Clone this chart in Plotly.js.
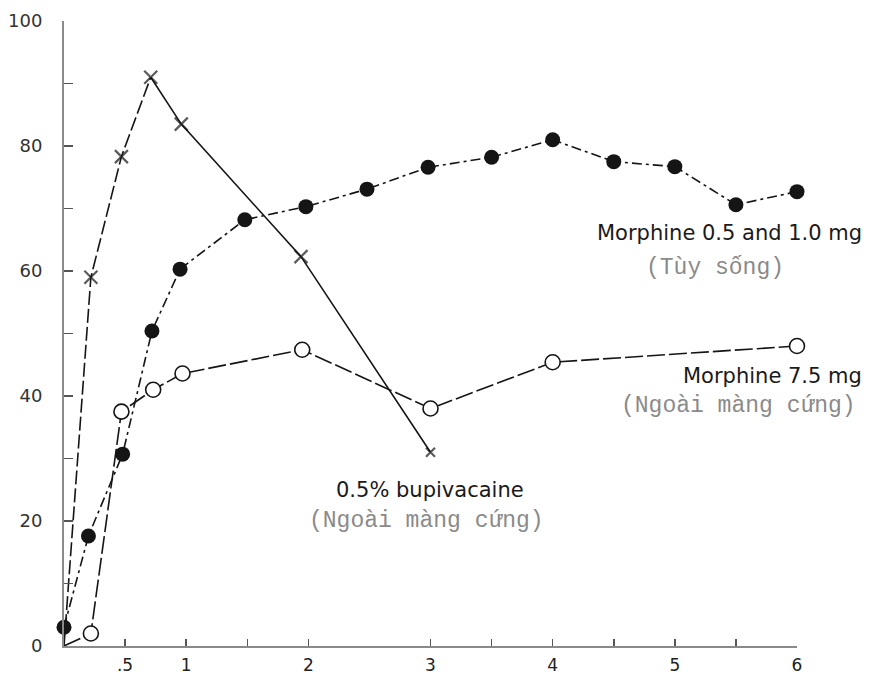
<!DOCTYPE html>
<html>
<head>
<meta charset="utf-8">
<script src="https://cdn.plot.ly/plotly-3.0.1.min.js"></script>
<style>html,body{margin:0;padding:0;background:#fff;}#chart{width:869px;height:676px;}</style>
</head>
<body>
<div id="chart"></div>
<script>
// Bupivacaine 0.5% (x markers)
const bupX = [0, 0.22, 0.47, 0.71, 0.96, 1.94, 3.0];
const bupY = [0, 59, 78.3, 91, 83.5, 62.3, 31];
// Morphine 0.5 and 1.0 mg (filled circles)
const morSpX = [0, 0.2, 0.48, 0.72, 0.95, 1.48, 1.98, 2.48, 2.98, 3.5, 4.0, 4.5, 5.0, 5.5, 6.0];
const morSpY = [3, 17.6, 30.7, 50.4, 60.3, 68.2, 70.3, 73.1, 76.6, 78.2, 81, 77.5, 76.7, 70.6, 72.7];
// Morphine 7.5 mg (open circles)
const morEpX = [0, 0.22, 0.47, 0.73, 0.97, 1.95, 3.0, 4.0, 6.0];
const morEpY = [0, 2, 37.5, 41, 43.6, 47.4, 38, 45.4, 48];

const xTickVals = [0.5, 1, 1.5, 2, 3, 3.5, 4, 4.5, 5, 5.5, 6];
const xTickText = [".5", "1", "", "2", "3", "", "4", "", "5", "", "6"];
const yTickVals = [0, 10, 20, 30, 40, 50, 60, 70, 80, 90, 100];
const yTickText = ["0", "", "20", "", "40", "", "60", "", "80", "", "100"];

const labelMorSp = ["Morphine 0.5 and 1.0 mg", "(Tùy sống)"];
const labelMorEp = ["Morphine 7.5 mg", "(Ngoài màng cứng)"];
const labelBup = ["0.5% bupivacaine", "(Ngoài màng cứng)"];

const ink = "#151515";
const traces = [
  { x: bupX.slice(0, 4), y: bupY.slice(0, 4), mode: "lines", cliponaxis: false,
    line: { color: ink, width: 1.6, dash: "14px,4px" }, hoverinfo: "skip" },
  { x: bupX.slice(3), y: bupY.slice(3), mode: "lines", cliponaxis: false,
    line: { color: ink, width: 1.6 }, hoverinfo: "skip" },
  { x: bupX.slice(1), y: bupY.slice(1), mode: "markers", cliponaxis: false,
    marker: { symbol: "x-thin-open", color: ink, size: [13, 13, 13, 13, 13, 9], line: { color: ink, width: 2.2 } } },
  { x: morSpX, y: morSpY, mode: "lines+markers", cliponaxis: false,
    line: { color: ink, width: 1.6, dash: "10px,4px,3px,4px" },
    marker: { symbol: "circle", size: 15, color: ink } },
  { x: morEpX, y: morEpY, mode: "lines", cliponaxis: false,
    line: { color: ink, width: 1.6, dash: "18px,4px" }, hoverinfo: "skip" },
  { x: morEpX.slice(1), y: morEpY.slice(1), mode: "markers", cliponaxis: false,
    marker: { symbol: "circle", size: 15, color: "#ffffff", line: { color: ink, width: 1.6 } } }
];

const sans = { family: "DejaVu Sans", size: 21, color: "#1a1a1a" };
const mono = { family: "Liberation Mono", size: 23, color: "#8a8a8a" };

const layout = {
  width: 869, height: 676,
  margin: { l: 64, r: 72, t: 21, b: 30 },
  paper_bgcolor: "#ffffff", plot_bgcolor: "#ffffff",
  showlegend: false,
  xaxis: {
    range: [0, 6], showgrid: false, zeroline: false,
    showline: true, linecolor: "#8a8a8a", linewidth: 2,
    ticks: "inside", ticklen: 7, tickwidth: 1.5, tickcolor: "#555",
    tickvals: xTickVals, ticktext: xTickText, ticklabelstandoff: 3,
    tickfont: { family: "DejaVu Sans", size: 17, color: "#222" }
  },
  yaxis: {
    range: [0, 100], showgrid: false, zeroline: false,
    showline: true, linecolor: "#8a8a8a", linewidth: 2,
    ticks: "inside", ticklen: 9, tickwidth: 1.5, tickcolor: "#555",
    tickvals: yTickVals, ticktext: yTickText, ticklabelstandoff: 16,
    tickfont: { family: "DejaVu Sans", size: 18, color: "#333" }
  },
  annotations: [
    { x: 1.0915, y: 66.1, xref: "paper", yref: "y", text: labelMorSp[0], showarrow: false, xanchor: "right", yanchor: "middle", font: sans },
    { x: 5.33, y: 60.5, xref: "x", yref: "y", text: labelMorSp[1], showarrow: false, xanchor: "center", yanchor: "middle", font: mono },
    { x: 1.0915, y: 43.2, xref: "paper", yref: "y", text: labelMorEp[0], showarrow: false, xanchor: "right", yanchor: "middle", font: sans },
    { x: 5.52, y: 38.4, xref: "x", yref: "y", text: labelMorEp[1], showarrow: false, xanchor: "center", yanchor: "middle", font: mono },
    { x: 2.995, y: 25, xref: "x", yref: "y", text: labelBup[0], showarrow: false, xanchor: "center", yanchor: "middle", font: sans },
    { x: 2.97, y: 20, xref: "x", yref: "y", text: labelBup[1], showarrow: false, xanchor: "center", yanchor: "middle", font: mono }
  ]
};

Plotly.newPlot("chart", traces, layout, { displayModeBar: false, staticPlot: true });
</script>
</body>
</html>
